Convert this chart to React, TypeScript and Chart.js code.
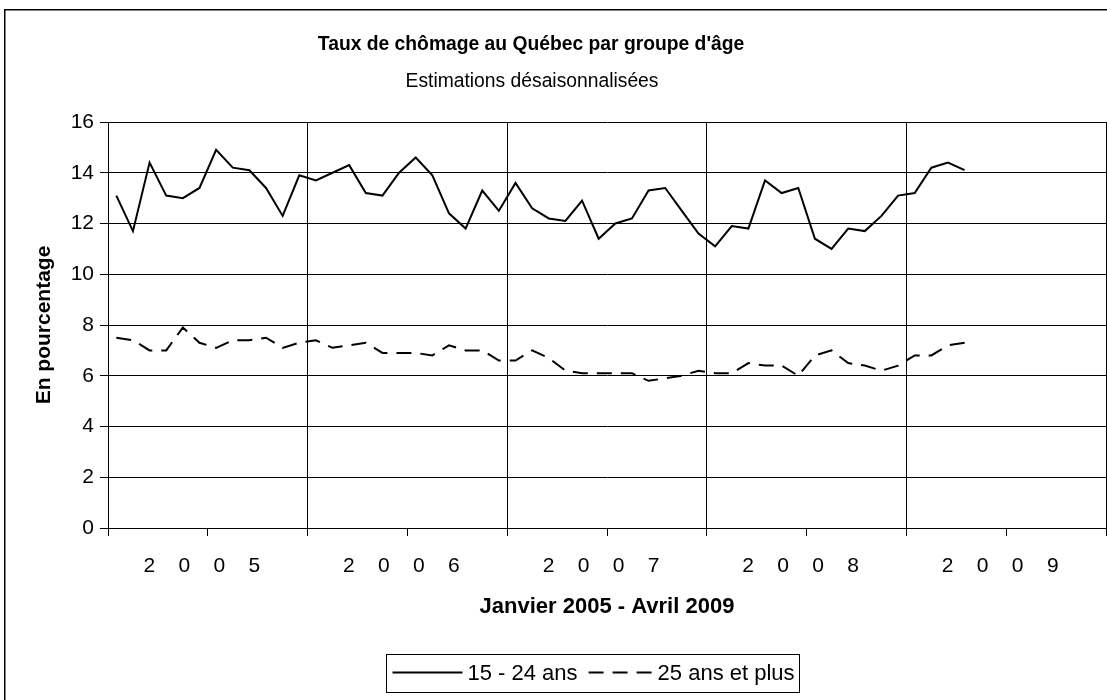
import React, { useEffect, useRef } from 'react';
import { Chart, registerables } from 'chart.js';

Chart.register(...registerables);

const FF = "'Liberation Sans', Arial, Helvetica, sans-serif";

const titleText = "Taux de chômage au Québec par groupe d'âge";
const subtitleText = 'Estimations désaisonnalisées';
const xTitleText = 'Janvier 2005 - Avril 2009';
const yTitleText = 'En pourcentage';

const years = ['2005', '2006', '2007', '2008', '2009'];
const seriesLabels = ['15 - 24 ans', '25 ans et plus'];

// Monthly values, January 2005 to April 2009
const youth = [
  13.1, 11.7, 14.4, 13.1, 13.0, 13.4, 14.9, 14.2, 14.1, 13.4, 12.3, 13.9,
  13.7, 14.0, 14.3, 13.2, 13.1, 14.0, 14.6, 13.9, 12.4, 11.8, 13.3, 12.5,
  13.6, 12.6, 12.2, 12.1, 12.9, 11.4, 12.0, 12.2, 13.3, 13.4, 12.5, 11.6,
  11.1, 11.9, 11.8, 13.7, 13.2, 13.4, 11.4, 11.0, 11.8, 11.7, 12.3, 13.1,
  13.2, 14.2, 14.4, 14.1,
];
const adults = [
  7.5, 7.4, 7.0, 7.0, 7.9, 7.3, 7.1, 7.4, 7.4, 7.5, 7.1, 7.3,
  7.4, 7.1, 7.2, 7.3, 6.9, 6.9, 6.9, 6.8, 7.2, 7.0, 7.0, 6.6,
  6.6, 7.0, 6.7, 6.2, 6.1, 6.1, 6.1, 6.1, 5.8, 5.9, 6.0, 6.2,
  6.1, 6.1, 6.5, 6.4, 6.4, 6.0, 6.8, 7.0, 6.5, 6.4, 6.2, 6.4,
  6.8, 6.8, 7.2, 7.3,
];

const yMin = 0;
const yMax = 16;
const yStep = 2;

const MONTHS_PER_YEAR = 12;
const totalMonths = years.length * MONTHS_PER_YEAR;

const spaced = (s: string) => s.split('').join('    ');

const decor = {
  id: 'decor',
  afterDraw(chart: any) {
    const ctx = chart.ctx as CanvasRenderingContext2D;
    ctx.save();
    // outer chart frame
    ctx.strokeStyle = '#000';
    ctx.lineWidth = 1.5;
    ctx.setLineDash([]);
    ctx.strokeRect(4.75, 9.75, 1200, 800);

    // titles
    ctx.fillStyle = '#000';
    ctx.textAlign = 'center';
    ctx.textBaseline = 'middle';
    ctx.font = `bold 19.3px ${FF}`;
    ctx.fillText(titleText, 531, 45);
    ctx.font = `19.3px ${FF}`;
    ctx.fillText(subtitleText, 532, 82);

    // legend
    ctx.font = `22px ${FF}`;
    const ds = chart.data.datasets;
    const sampleLen = [70, 64];
    const gapAfterSample = 5;
    const gapBetween = 11;
    const padL = 6;
    const padR = 5;
    const widths = ds.map((d: any) => ctx.measureText(d.label).width);
    let total = padL + padR;
    ds.forEach((_: any, i: number) => {
      total += sampleLen[i] + gapAfterSample + widths[i];
      if (i < ds.length - 1) total += gapBetween;
    });
    const cx = 593;
    const cy = 672.5;
    const boxH = 38;
    const left = Math.round(cx - total / 2) + 0.5;
    ctx.strokeStyle = '#000';
    ctx.lineWidth = 1;
    ctx.strokeRect(left, Math.round(cy - boxH / 2) + 0.5, Math.round(total), boxH);
    let x = left + padL;
    ctx.textAlign = 'left';
    ds.forEach((d: any, i: number) => {
      ctx.beginPath();
      ctx.setLineDash(d.borderDash || []);
      ctx.lineWidth = d.borderWidth;
      ctx.strokeStyle = d.borderColor;
      ctx.moveTo(x, cy);
      ctx.lineTo(x + sampleLen[i], cy);
      ctx.stroke();
      ctx.setLineDash([]);
      x += sampleLen[i] + gapAfterSample;
      ctx.fillStyle = '#000';
      ctx.fillText(d.label, x, cy + 1);
      x += widths[i] + gapBetween;
    });
    ctx.restore();
  },
};

export default function App() {
  const canvasRef = useRef<HTMLCanvasElement | null>(null);

  useEffect(() => {
    const canvas = canvasRef.current;
    if (!canvas) return;

    const xTicks: number[] = [];
    for (let k = 0; k <= years.length * 2; k++) xTicks.push(-0.5 + k * (MONTHS_PER_YEAR / 2));
    const isYearBoundary = (v: number) => Math.abs((v + 0.5) % MONTHS_PER_YEAR) < 1e-6;

    const chart = new Chart(canvas, {
      type: 'line',
      data: {
        datasets: [
          {
            label: seriesLabels[0],
            data: youth.map((v, i) => ({ x: i, y: v })),
            borderColor: '#000',
            borderWidth: 2,
            pointRadius: 0,
            tension: 0,
            fill: false,
          },
          {
            label: seriesLabels[1],
            data: adults.map((v, i) => ({ x: i, y: v })),
            borderColor: '#000',
            borderWidth: 2,
            borderDash: [15, 9],
            pointRadius: 0,
            tension: 0,
            fill: false,
          },
        ],
      },
      options: {
        animation: false,
        responsive: true,
        maintainAspectRatio: false,
        layout: { padding: { left: 0, right: 1, top: 122, bottom: 0 } },
        plugins: {
          legend: { display: false },
          title: { display: false },
          tooltip: { enabled: false },
        },
        scales: {
          x: {
            type: 'linear',
            min: -0.5,
            max: totalMonths - 0.5,
            afterBuildTicks: (s: any) => {
              s.ticks = xTicks.map((v) => ({ value: v }));
            },
            afterFit: (s: any) => {
              s.height = 172;
              s.paddingLeft = 0;
              s.paddingRight = 0;
            },
            grid: {
              color: (c: any) => (c.tick && isYearBoundary(c.tick.value) ? '#000' : 'rgba(0,0,0,0)'),
              tickColor: '#000',
              tickLength: 8,
              lineWidth: 1,
            },
            border: { color: '#000', width: 1 },
            ticks: {
              autoSkip: false,
              maxRotation: 0,
              minRotation: 0,
              padding: 18,
              labelOffset: -6,
              color: '#000',
              font: { family: FF, size: 21 },
              callback: (value: any) => {
                const k = (Number(value) - (MONTHS_PER_YEAR / 2 - 0.5)) / MONTHS_PER_YEAR;
                return Number.isInteger(k) && years[k] ? spaced(years[k]) : '';
              },
            },
            title: {
              display: true,
              text: xTitleText,
              color: '#000',
              font: { family: FF, size: 22, weight: 'bold' },
              padding: { top: 0, bottom: 80 },
            },
          },
          y: {
            min: yMin,
            max: yMax,
            afterFit: (s: any) => {
              s.width = 108;
            },
            grid: { color: '#000', tickColor: '#000', tickLength: 8, lineWidth: 1 },
            border: { color: '#000', width: 1 },
            ticks: {
              stepSize: yStep,
              padding: 6,
              color: '#000',
              font: { family: FF, size: 21 },
            },
            title: {
              display: true,
              text: yTitleText,
              color: '#000',
              font: { family: FF, size: 21, weight: 'bold' },
              padding: { top: 32, bottom: 0 },
            },
          },
        },
      },
      plugins: [decor],
    } as any);

    return () => chart.destroy();
  }, []);

  return (
    <div style={{ position: 'absolute', left: 0, top: 0, width: 1107, height: 700, background: '#fff' }}>
      <canvas ref={canvasRef} />
    </div>
  );
}
